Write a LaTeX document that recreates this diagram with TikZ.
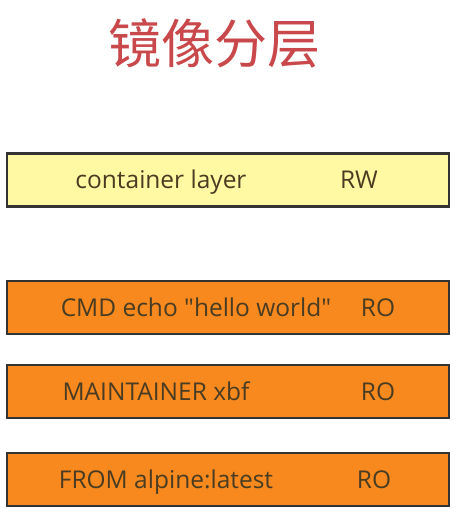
\documentclass[tikz,border=0pt]{standalone}
\usepackage{fontspec}
\setmainfont{Open Sans}
\newfontfamily\cjk{Noto Sans CJK SC}
\usetikzlibrary{positioning,calc}
\definecolor{titlered}{HTML}{C8484B}
\definecolor{rwyellow}{HTML}{FFF9A3}
\definecolor{roorange}{HTML}{F7891F}
\definecolor{boxline}{HTML}{333333}
\definecolor{layertext}{HTML}{4A3C22}

\begin{document}
\begin{tikzpicture}[x=1pt, y=-1pt,
  layer/.style={rectangle, draw=boxline, line width=2.6pt,
                minimum width=442pt, minimum height=53pt, inner sep=0pt},
  txt/.style={font=\fontsize{24.5}{28}\selectfont, text=layertext, inner sep=0pt, anchor=base},
]
  \useasboundingbox (0,0) rectangle (463,522);
  \node[font=\cjk\fontsize{53}{60}\selectfont, text=titlered] (title) at (214,43) {镜像分层};

  % layers, top to bottom
  \node[layer, fill=rwyellow] (cont) at (228,180) {};
  \node[layer, fill=roorange] (cmd) at (228,307.5) {};
  \node[layer, fill=roorange] (maint) at (228,391.5) {};
  \node[layer, fill=roorange] (from) at (228,479.5) {};

  \node[txt] (contname) at (161,188.5) {container layer};
  \node[txt] (contmode) at (359,188.5) {RW};
  \node[txt] (cmdname) at (196,316) {CMD echo \textquotedbl hello world\textquotedbl};
  \node[txt] (cmdmode) at (378,316) {RO};
  \node[txt] (maintname) at (156,400) {MAINTAINER xbf};
  \node[txt] (maintmode) at (378,400) {RO};
  \node[txt] (fromname) at (166,488) {FROM alpine:latest};
  \node[txt] (frommode) at (374,488) {RO};
\end{tikzpicture}
\end{document}
